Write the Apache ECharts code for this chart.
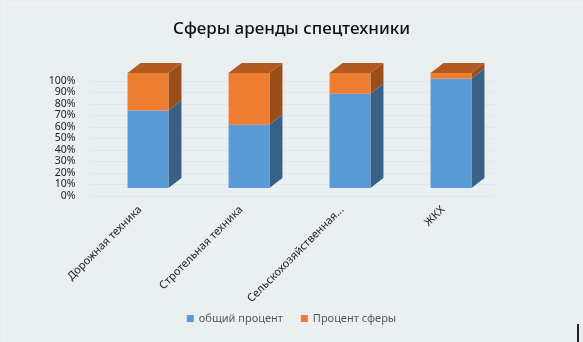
<!DOCTYPE html>
<html>
<head>
<meta charset="utf-8">
<script src="https://cdn.jsdelivr.net/npm/echarts@6/dist/echarts.min.js"></script>
<style>
html,body{margin:0;padding:0;background:#eaeff2;}
#c{width:583px;height:342px;}
</style>
</head>
<body>
<div id="c"></div>
<script>
const categories = ['Дорожная техника', 'Стротельная техника', 'Сельскохозяйственная...', 'ЖКХ'];
const generalPercent = [67.5, 55, 82, 95];
const spherePercent = [32.5, 45, 18, 5];
const yTicks = ['0%', '10%', '20%', '30%', '40%', '50%', '60%', '70%', '80%', '90%', '100%'];
const seriesNames = ['общий процент', 'Процент сферы'];

const DX = 13, DY = 10;
const FONT = '"Noto Sans", sans-serif';

function makeBox(front, side, top, drawTop) {
  return function (params, api) {
    const x = api.value(0), y0 = api.value(1), y1 = api.value(2);
    const pb = api.coord([x, y0]);
    const pt = api.coord([x, y1]);
    const bw = api.size([1, 0])[0] * 0.405;
    const l = pb[0] - bw / 2, r = pb[0] + bw / 2;
    const t = pt[1], b = pb[1];
    const children = [
      { type: 'polygon', shape: { points: [[r, t], [r + DX, t - DY], [r + DX, b - DY], [r, b]] }, style: { fill: side } },
      { type: 'rect', shape: { x: l, y: t, width: bw, height: b - t }, style: { fill: front } }
    ];
    if (drawTop) {
      children.push({ type: 'polygon', shape: { points: [[l, t], [r, t], [r + DX, t - DY], [l + DX, t - DY]] }, style: { fill: top } });
    }
    return { type: 'group', children: children };
  };
}

const blueData = categories.map((c, i) => [i, 0, generalPercent[i]]);
const orangeData = categories.map((c, i) => [i, generalPercent[i], generalPercent[i] + spherePercent[i]]);

const chart = echarts.init(document.getElementById('c'), null, { renderer: 'canvas' });
chart.setOption({
  backgroundColor: '#eaeff2',
  animation: false,
  title: {
    text: 'Сферы аренды спецтехники',
    left: 'center',
    top: 16,
    textStyle: { fontFamily: FONT, fontSize: 17, fontWeight: 500, color: '#111' }
  },
  legend: {
    data: seriesNames,
    bottom: 13,
    left: 'center',
    icon: 'rect',
    itemWidth: 7,
    itemHeight: 7,
    itemGap: 18,
    textStyle: { fontFamily: FONT, fontSize: 11, color: '#595959' }
  },
  grid: [
    { left: 97.5, right: 81.5, top: 73, bottom: 154 },
    { left: 89.5, right: 89.5, top: 81, bottom: 146 }
  ],
  xAxis: [
    { type: 'category', gridIndex: 0, data: categories, show: false },
    {
      type: 'category', gridIndex: 1, data: categories,
      axisLine: { show: false }, axisTick: { show: false },
      axisLabel: { rotate: 45, margin: 12, interval: 0, fontFamily: FONT, fontSize: 11, color: '#222' }
    }
  ],
  yAxis: [
    { type: 'value', gridIndex: 0, min: 0, max: 100, show: false },
    {
      type: 'category', gridIndex: 1, data: yTicks, boundaryGap: false,
      axisLine: { show: false }, axisTick: { show: false },
      splitLine: { show: true, lineStyle: { color: '#e0e6ea', width: 1 } },
      axisLabel: { margin: 14, fontFamily: FONT, fontSize: 10.5, color: '#222', interval: 0 }
    }
  ],
  series: [
    {
      name: seriesNames[0], type: 'custom', xAxisIndex: 0, yAxisIndex: 0,
      itemStyle: { color: '#5b9bd5' },
      renderItem: makeBox('#5b9bd5', '#386188', '#4a7fb0', false),
      encode: { x: 0, y: [1, 2] },
      data: blueData
    },
    {
      name: seriesNames[1], type: 'custom', xAxisIndex: 0, yAxisIndex: 0,
      itemStyle: { color: '#ed7d31' },
      renderItem: makeBox('#ed7d31', '#9a4e1b', '#b25a20', true),
      encode: { x: 0, y: [1, 2] },
      data: orangeData
    }
  ],
  graphic: [
    { type: 'rect', shape: { x: 3.5, y: 3.5, width: 590, height: 350 }, style: { fill: 'none', stroke: '#f4f6f8', lineWidth: 1 }, silent: true },
    { type: 'rect', shape: { x: 577, y: 324, width: 2, height: 18 }, style: { fill: '#222' }, silent: true }
  ]
});
</script>
</body>
</html>
